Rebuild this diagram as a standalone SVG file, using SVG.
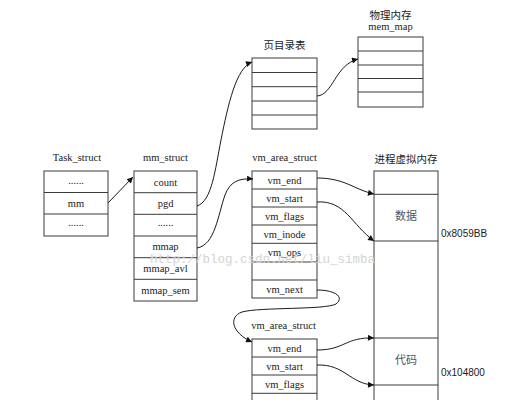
<svg xmlns="http://www.w3.org/2000/svg" width="515" height="400" viewBox="0 0 515 400">
<defs>
<style>
.bx{fill:#fff;stroke:#3a3a3a;stroke-width:1}
.ln{stroke:#3a3a3a;stroke-width:1}
.t{font-family:"Liberation Serif","Times New Roman",serif;font-size:10.5px;fill:#1a1a1a;text-anchor:middle}
.c{font-family:"Noto Sans CJK SC",sans-serif;font-size:10.5px;fill:#222;text-anchor:middle}
.cg{font-family:"Noto Sans CJK SC",sans-serif;font-size:11px;fill:#555;text-anchor:middle}
.h{font-family:"Liberation Sans",Arial,sans-serif;font-size:10px;fill:#1a1a1a}
.w{font-family:"Liberation Mono","Courier New",monospace;font-size:12.5px;fill:#d4d4d4}
.e{fill:none;stroke:#1a1a1a;stroke-width:1;marker-end:url(#ah)}
</style>
<marker id="ah" viewBox="0 0 10 10" refX="10" refY="5" markerWidth="7" markerHeight="6" markerUnits="userSpaceOnUse" orient="auto">
<path d="M0,0 L10,5 L0,10 z" fill="#111"/>
</marker>
</defs>
<rect width="515" height="400" fill="#fff"/>

<g id="task_struct">
<text class="t" x="77" y="161">Task_struct</text>
<rect class="bx" x="44" y="171" width="64" height="65"/>
<line class="ln" x1="44" y1="192.5" x2="108" y2="192.5"/>
<line class="ln" x1="44" y1="214" x2="108" y2="214"/>
<text class="t" x="76" y="183.5">......</text>
<text class="t" x="76" y="207">mm</text>
<text class="t" x="76" y="226">......</text>
</g>

<g id="mm_struct">
<text class="t" x="165.5" y="161">mm_struct</text>
<rect class="bx" x="134" y="171" width="63" height="130"/>
<line class="ln" x1="134" y1="192.7" x2="197" y2="192.7"/>
<line class="ln" x1="134" y1="214.3" x2="197" y2="214.3"/>
<line class="ln" x1="134" y1="236" x2="197" y2="236"/>
<line class="ln" x1="134" y1="257.7" x2="197" y2="257.7"/>
<line class="ln" x1="134" y1="279.3" x2="197" y2="279.3"/>
<text class="t" x="165.5" y="185.5">count</text>
<text class="t" x="165.5" y="207">pgd</text>
<text class="t" x="165.5" y="225.5">......</text>
<text class="t" x="165.5" y="250">mmap</text>
<text class="t" x="165.5" y="272">mmap_avl</text>
<text class="t" x="165.5" y="293.5">mmap_sem</text>
</g>

<g id="page_dir">
<text class="c" x="284.5" y="49">页目录表</text>
<rect class="bx" x="252" y="58" width="65" height="71"/>
<line class="ln" x1="252" y1="72.5" x2="317" y2="72.5"/>
<line class="ln" x1="252" y1="86.7" x2="317" y2="86.7"/>
<line class="ln" x1="252" y1="101" x2="317" y2="101"/>
<line class="ln" x1="252" y1="115" x2="317" y2="115"/>
</g>

<g id="mem_map">
<text class="c" x="390.5" y="18.5">物理内存</text>
<text class="t" x="390.5" y="29.5">mem_map</text>
<rect class="bx" x="358" y="37" width="65" height="70"/>
<line class="ln" x1="358" y1="51" x2="423" y2="51"/>
<line class="ln" x1="358" y1="65" x2="423" y2="65"/>
<line class="ln" x1="358" y1="78.5" x2="423" y2="78.5"/>
<line class="ln" x1="358" y1="92" x2="423" y2="92"/>
</g>

<g id="vm_area_1">
<text class="t" x="284.5" y="161">vm_area_struct</text>
<rect class="bx" x="252" y="171" width="65" height="127"/>
<line class="ln" x1="252" y1="189" x2="317" y2="189"/>
<line class="ln" x1="252" y1="207" x2="317" y2="207"/>
<line class="ln" x1="252" y1="225" x2="317" y2="225"/>
<line class="ln" x1="252" y1="243.3" x2="317" y2="243.3"/>
<line class="ln" x1="252" y1="262" x2="317" y2="262"/>
<line class="ln" x1="252" y1="280" x2="317" y2="280"/>
<text class="t" x="284.5" y="183.8">vm_end</text>
<text class="t" x="284.5" y="201.8">vm_start</text>
<text class="t" x="284.5" y="219.8">vm_flags</text>
<text class="t" x="284.5" y="237.8">vm_inode</text>
<text class="t" x="284.5" y="256.3">vm_ops</text>
<text class="t" x="284.5" y="292.8">vm_next</text>
</g>

<g id="vm_area_2">
<text class="t" x="283.5" y="329">vm_area_struct</text>
<rect class="bx" x="252" y="339" width="65" height="75"/>
<line class="ln" x1="252" y1="357" x2="317" y2="357"/>
<line class="ln" x1="252" y1="375" x2="317" y2="375"/>
<line class="ln" x1="252" y1="393.3" x2="317" y2="393.3"/>
<text class="t" x="284.5" y="351.8">vm_end</text>
<text class="t" x="284.5" y="369.8">vm_start</text>
<text class="t" x="284.5" y="388">vm_flags</text>
<text class="t" x="284.5" y="406.5">vm_inode</text>
</g>

<g id="proc_vmem">
<text class="c" x="406" y="163">进程虚拟内存</text>
<rect class="bx" x="374" y="171" width="64" height="245"/>
<line class="ln" x1="374" y1="194.3" x2="438" y2="194.3"/>
<line class="ln" x1="374" y1="241" x2="438" y2="241"/>
<line class="ln" x1="374" y1="338" x2="438" y2="338"/>
<line class="ln" x1="374" y1="385" x2="438" y2="385"/>
<text class="cg" x="406" y="220">数据</text>
<text class="cg" x="406" y="363.5">代码</text>
<text class="h" x="441" y="236.5">0x8059BB</text>
<text class="h" x="441" y="375.5">0x104800</text>
</g>

<g id="connectors">
<path class="e" d="M108,203 L133,177"/>
<path class="e" d="M197,206 C212,201 215,170 221,140 C228,105 236,68 252,62"/>
<path class="e" d="M197,248 C215,245 218,215 225,195 C230,182 238,178 253,179"/>
<path class="e" d="M317,96 C333,95 335,65 358,59"/>
<path class="e" d="M317,178 C345,178 355,190 374,194"/>
<path class="e" d="M317,202 C345,200 352,225 374,241"/>
<path class="e" d="M317,290 C335,290 345,297 336,304 C325,310 260,307 242,312 C228,317 232,333 252,342"/>
<path class="e" d="M317,350 C345,350 345,337 374,338"/>
<path class="e" d="M317,365 C345,364 350,384 374,385"/>
</g>

<text class="w" x="150" y="263">http://blog.csdn.net/liu_simba</text>
</svg>
